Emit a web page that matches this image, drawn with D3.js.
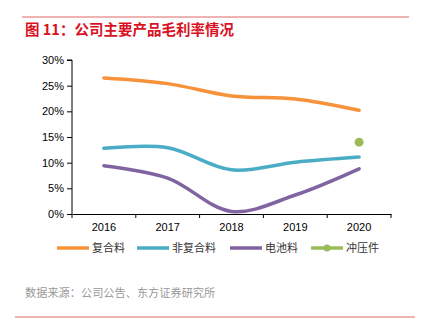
<!DOCTYPE html>
<html>
<head>
<meta charset="utf-8">
<script src="https://cdn.jsdelivr.net/npm/d3@7"></script>
<style>
  body { margin: 0; background: #fff; }
  text { font-family: "Liberation Sans", Arial, "Noto Sans CJK SC", sans-serif; }
</style>
</head>
<body>
<svg id="chart" width="422" height="332"></svg>
<script>
var years = ['2016', '2017', '2018', '2019', '2020'];
var composite = [26.5, 25.4, 23.0, 22.4, 20.2];
var nonComposite = [12.8, 12.9, 8.6, 10.1, 11.1];
var battery = [9.4, 7.0, 0.5, 3.7, 8.8];
var stamping = [null, null, null, null, 14.0];
var yTicks = [0, 5, 10, 15, 20, 25, 30];

var seriesNames = ['复合料', '非复合料', '电池料', '冲压件'];
var seriesColors = ['#f7923a', '#4bacc6', '#8064a2', '#9bbb59'];

var svg = d3.select('#chart');
var cjk = '"Noto Sans CJK SC", sans-serif';

// red rules + title
svg.append('line').attr('x1', 22).attr('x2', 409).attr('y1', 17).attr('y2', 17)
    .attr('stroke', '#e06666').attr('stroke-width', 1);
svg.append('text').attr('x', 25).attr('y', 35)
    .attr('fill', '#d9121f').style('font-family', cjk).style('font-weight', 'bold')
    .style('font-size', '14.5px').text('图 11：公司主要产品毛利率情况');

var x = d3.scaleBand().domain(years).range([72, 391]);
var y = d3.scaleLinear().domain([0, 30]).range([214, 60]);

var xAxis = d3.axisBottom(x).tickSize(0).tickPadding(9);
var yAxis = d3.axisLeft(y).tickValues(yTicks).tickSize(5)
    .tickFormat(function(d) { return d + '%'; });

var gx = svg.append('g').attr('transform', 'translate(0,214)').call(xAxis);
gx.select('.domain').attr('stroke', '#000');
gx.selectAll('text').style('font-size', '11px').attr('fill', '#000');
// category boundary ticks
gx.selectAll('.bound').data(d3.range(years.length + 1)).enter().append('line')
    .attr('x1', function(i) { return 72 + i * x.step(); })
    .attr('x2', function(i) { return 72 + i * x.step(); })
    .attr('y1', 0).attr('y2', 4).attr('stroke', '#000');

var gy = svg.append('g').attr('transform', 'translate(72,0)').call(yAxis);
gy.select('.domain').attr('d', 'M-5,60H0V214');
gy.selectAll('text').style('font-size', '11px').attr('fill', '#000');

var line = d3.line()
    .defined(function(d) { return d != null; })
    .x(function(d, i) { return x(years[i]) + x.bandwidth() / 2; })
    .y(function(d) { return y(d); })
    .curve(d3.curveCatmullRom.alpha(0.5));

[composite, nonComposite, battery].forEach(function(s, k) {
    svg.append('path').attr('d', line(s)).attr('fill', 'none')
        .attr('stroke', seriesColors[k]).attr('stroke-width', 3.5)
        .attr('stroke-linecap', 'round');
});

svg.selectAll('.dot').data(stamping).enter()
    .filter(function(d) { return d != null; })
    .append('circle')
    .attr('cx', function(d) { return x(years[stamping.indexOf(d)]) + x.bandwidth() / 2; })
    .attr('cy', function(d) { return y(d); })
    .attr('r', 4.5).attr('fill', seriesColors[3]);

// legend
var legendX = [57, 137, 230, 311];
var lg = svg.selectAll('.lg').data(seriesNames).enter().append('g')
    .attr('transform', function(d, i) { return 'translate(' + legendX[i] + ',248)'; });
lg.append('line').attr('x1', 0).attr('x2', 32).attr('y1', 0).attr('y2', 0)
    .attr('stroke', function(d, i) { return seriesColors[i]; }).attr('stroke-width', 3.5);
lg.filter(function(d, i) { return i === 3; }).append('circle')
    .attr('cx', 16).attr('cy', 0).attr('r', 3.5).attr('fill', seriesColors[3]);
lg.append('text').attr('x', 35).attr('y', 4).style('font-family', cjk)
    .style('font-size', '11px').attr('fill', '#333').text(function(d) { return d; });

// source + bottom rule
svg.append('text').attr('x', 25).attr('y', 297).style('font-family', cjk)
    .style('font-size', '11.2px').attr('fill', '#999').text('数据来源：公司公告、东方证券研究所');
svg.append('line').attr('x1', 15).attr('x2', 415).attr('y1', 317).attr('y2', 317)
    .attr('stroke', '#e06666').attr('stroke-width', 1);
</script>
</body>
</html>
